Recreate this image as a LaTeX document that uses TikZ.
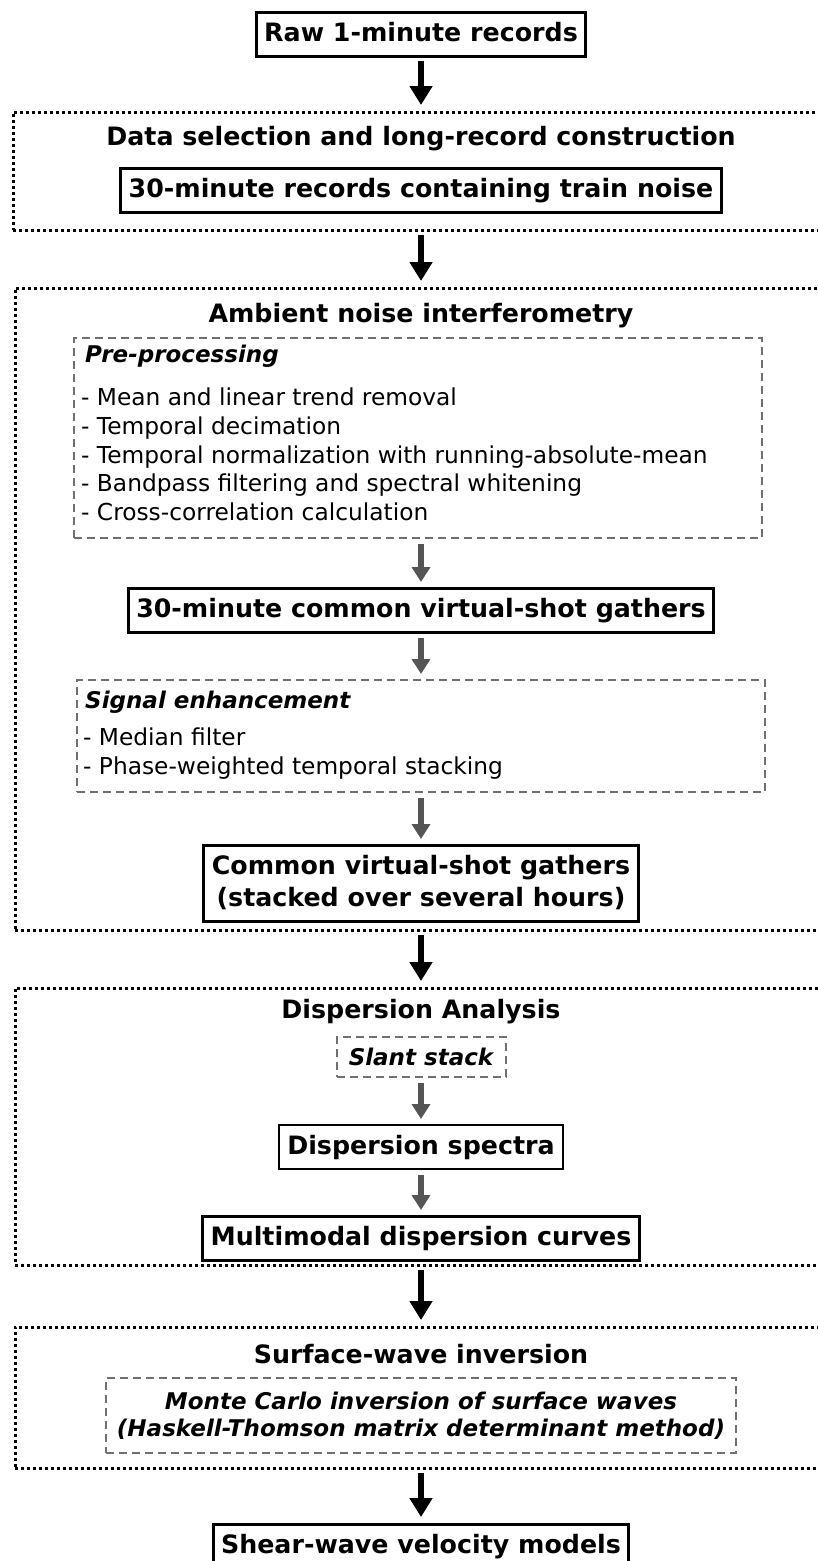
\documentclass[tikz,border=0pt]{standalone}
\usepackage{fontspec}
\setmainfont{DejaVu Sans}
\usepackage{xcolor}
\usepackage{tikz}
\usetikzlibrary{arrows.meta}

\definecolor{arrowgray}{HTML}{555555}
\definecolor{boxgray}{HTML}{707070}

\begin{document}
\begin{tikzpicture}[x=1pt, y=-1pt,
			box/.style={rectangle, draw=black, line width=3pt, inner xsep=8pt, inner ysep=10pt, outer sep=0pt, align=center, font=\fontsize{25.3}{32}\selectfont\bfseries},
			stage/.style={box, text height=19pt, text depth=5pt},
			group/.style={rectangle, draw=black, line width=3pt, dash pattern=on 3pt off 3pt, inner sep=0pt, outer sep=0pt},
			sub/.style={rectangle, draw=boxgray, line width=2pt, dash pattern=on 8pt off 5pt, inner sep=0pt, outer sep=0pt},
			title/.style={anchor=base, inner sep=0pt, font=\fontsize{25.3}{32}\selectfont\bfseries},
			head/.style={anchor=base west, inner sep=0pt, font=\fontsize{23}{28}\selectfont\bfseries\itshape},
			item/.style={anchor=base west, inner sep=0pt, font=\fontsize{23.3}{28}\selectfont},
			arrow/.style={line width=6.5pt, -{Triangle[width=22pt, length=19pt]}, shorten <=5pt, shorten >=7pt},
			garrow/.style={arrow, draw=arrowgray, -{Triangle[width=18pt, length=15pt]}, shorten <=6pt, shorten >=6pt}
		]
		\useasboundingbox (0,0) rectangle (817,1561);

		% Input
		\node[stage] (raw) at (421,34) {Raw 1-minute records};

		% Data selection
		\node[group, minimum width=816pt, minimum height=118pt] (g1) at (421,171) {};
		\node[title] (t1) at (421,145) {Data selection and long-record construction};
		\node[stage] (rec) at (421,190) {30-minute records containing train noise};

		% Ambient noise interferometry
		\node[group, minimum width=812pt, minimum height=642pt] (g2) at (421,609) {};
		\node[title] (t2) at (421,322) {Ambient noise interferometry};
		\node[sub, minimum width=688pt, minimum height=200pt] (pre) at (418,438) {};
		\node[head] (prehead) at (85,362) {Pre-processing};
		\node[item] (pre1) at (81,405) {- Mean and linear trend removal};
		\node[item] (pre2) at (81,434) {- Temporal decimation};
		\node[item] (pre3) at (81,463) {- Temporal normalization with running-absolute-mean};
		\node[item] (pre4) at (81,491) {- Bandpass filtering and spectral whitening};
		\node[item] (pre5) at (81,520) {- Cross-correlation calculation};
		\node[stage] (cvs30) at (421,610) {30-minute common virtual-shot gathers};
		\node[sub, minimum width=688pt, minimum height=112pt] (sig) at (421,736) {};
		\node[head] (sighead) at (85,708) {Signal enhancement};
		\node[item] (sig1) at (83,745) {- Median filter};
		\node[item] (sig2) at (83,774) {- Phase-weighted temporal stacking};
		\node[box, minimum height=76pt] (cvs) at (421,883) {Common virtual-shot gathers\\(stacked over several hours)};

		% Dispersion analysis
		\node[group, minimum width=812pt, minimum height=277pt] (g3) at (421,1126.5) {};
		\node[title] (t3) at (421,1018) {Dispersion Analysis};
		\node[sub, minimum width=169pt, minimum height=40pt, font=\fontsize{23}{28}\selectfont\bfseries\itshape] (slant) at (421,1057) {Slant stack};
		\node[stage, line width=2pt] (spectra) at (421,1147) {Dispersion spectra};
		\node[stage] (curves) at (421,1238) {Multimodal dispersion curves};

		% Surface-wave inversion
		\node[group, minimum width=812pt, minimum height=141pt] (g4) at (421,1397.5) {};
		\node[title] (t4) at (421,1363) {Surface-wave inversion};
		\node[sub, minimum width=630pt, minimum height=75pt, align=center, font=\fontsize{23}{27}\selectfont\bfseries\itshape] (monte) at (421,1415.5) {Monte Carlo inversion of surface waves\\(Haskell-Thomson matrix determinant method)};

		% Output
		\node[stage] (shear) at (421,1546) {Shear-wave velocity models};

		% Arrows
		\draw[arrow] (raw) -- (g1);
		\draw[arrow] (g1) -- (g2);
		\draw[garrow] (pre.south -| cvs30) -- (cvs30);
		\draw[garrow] (cvs30) -- (sig);
		\draw[garrow] (sig) -- (cvs);
		\draw[arrow] (g2) -- (g3);
		\draw[garrow] (slant) -- (spectra);
		\draw[garrow] (spectra) -- (curves);
		\draw[arrow] (g3) -- (g4);
		\draw[arrow] (g4) -- (shear);

	\end{tikzpicture}
\end{document}
